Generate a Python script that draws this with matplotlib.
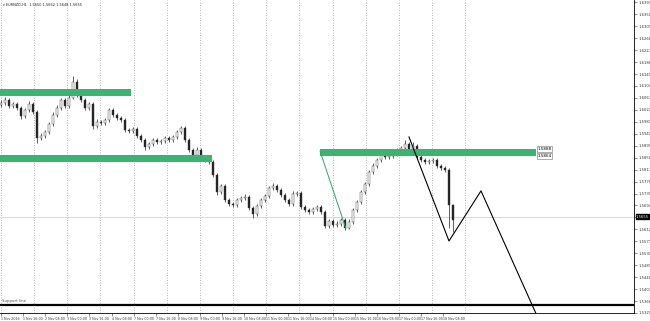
import numpy as np
import matplotlib.pyplot as plt
from matplotlib.patches import Rectangle
from matplotlib.transforms import blended_transform_factory


#%% Datos
symbol_title = "EURNZD,H1  1.5650 1.5662 1.5648 1.5655"

first_open = 1.6040
closes = [1.6046, 1.6056, 1.6035, 1.6042, 1.6029, 1.6001, 1.6022, 1.6042, 1.6015, 1.5926,
          1.5933, 1.5946, 1.5974, 1.6005, 1.6029, 1.6056, 1.6035, 1.6063, 1.6118, 1.6073,
          1.6056, 1.6029, 1.6042, 1.5967, 1.5981, 1.5977, 1.5987, 1.6022, 1.6005, 1.5994,
          1.5987, 1.5953, 1.5950, 1.5957, 1.5933, 1.5919, 1.5895, 1.5905, 1.5919, 1.5912,
          1.5915, 1.5926, 1.5919, 1.5929, 1.5946, 1.5960, 1.5919, 1.5884, 1.5867, 1.5884,
          1.5860, 1.5850, 1.5843, 1.5799, 1.5740, 1.5761, 1.5713, 1.5699, 1.5696, 1.5713,
          1.5720, 1.5723, 1.5686, 1.5665, 1.5692, 1.5713, 1.5727, 1.5754, 1.5761, 1.5747,
          1.5730, 1.5713, 1.5699, 1.5734, 1.5737, 1.5689, 1.5679, 1.5672, 1.5682, 1.5689,
          1.5672, 1.5624, 1.5641, 1.5627, 1.5631, 1.5644, 1.5617, 1.5638, 1.5679, 1.5706,
          1.5740, 1.5768, 1.5809, 1.5830, 1.5850, 1.5871, 1.5860, 1.5864, 1.5871, 1.5884,
          1.5891, 1.5905, 1.5888, 1.5898, 1.5860, 1.5850, 1.5843, 1.5847, 1.5850, 1.5830,
          1.5823, 1.5816, 1.5696, 1.5644]
highs = [1.6055, 1.6066, 1.6063, 1.6050, 1.6049, 1.6035, 1.6030, 1.6052, 1.6048, 1.6020,
         1.5941, 1.5954, 1.5982, 1.6013, 1.6038, 1.6064, 1.6062, 1.6085, 1.6138, 1.6128,
         1.6080, 1.6064, 1.6050, 1.6048, 1.5989, 1.5988, 1.5995, 1.6030, 1.6028, 1.6012,
         1.6001, 1.5993, 1.5960, 1.5964, 1.5963, 1.5940, 1.5925, 1.5913, 1.5927, 1.5926,
         1.5922, 1.5934, 1.5932, 1.5937, 1.5954, 1.5968, 1.5966, 1.5925, 1.5890, 1.5895,
         1.5890, 1.5866, 1.5857, 1.5849, 1.5805, 1.5769, 1.5767, 1.5719, 1.5706, 1.5721,
         1.5728, 1.5734, 1.5729, 1.5692, 1.5700, 1.5721, 1.5735, 1.5762, 1.5770, 1.5767,
         1.5753, 1.5736, 1.5719, 1.5742, 1.5745, 1.5743, 1.5695, 1.5686, 1.5690, 1.5697,
         1.5695, 1.5678, 1.5649, 1.5647, 1.5639, 1.5652, 1.5650, 1.5646, 1.5687, 1.5714,
         1.5748, 1.5776, 1.5817, 1.5838, 1.5858, 1.5880, 1.5877, 1.5872, 1.5879, 1.5892,
         1.5899, 1.5919, 1.5911, 1.5912, 1.5904, 1.5866, 1.5857, 1.5855, 1.5857, 1.5856,
         1.5836, 1.5829, 1.5822, 1.5700]
lows = [1.6032, 1.6038, 1.6027, 1.6028, 1.6020, 1.5992, 1.5995, 1.6016, 1.6008, 1.5908,
        1.5918, 1.5927, 1.5940, 1.5968, 1.5999, 1.6022, 1.6027, 1.6030, 1.6058, 1.6066,
        1.6048, 1.6020, 1.6022, 1.5958, 1.5960, 1.5970, 1.5971, 1.5980, 1.5998, 1.5987,
        1.5980, 1.5945, 1.5942, 1.5943, 1.5925, 1.5911, 1.5886, 1.5889, 1.5899, 1.5905,
        1.5905, 1.5909, 1.5912, 1.5913, 1.5923, 1.5940, 1.5911, 1.5876, 1.5859, 1.5861,
        1.5852, 1.5842, 1.5835, 1.5790, 1.5731, 1.5733, 1.5705, 1.5691, 1.5688, 1.5690,
        1.5707, 1.5714, 1.5678, 1.5651, 1.5659, 1.5686, 1.5707, 1.5721, 1.5748, 1.5740,
        1.5722, 1.5705, 1.5691, 1.5693, 1.5727, 1.5681, 1.5671, 1.5664, 1.5665, 1.5676,
        1.5664, 1.5617, 1.5618, 1.5620, 1.5621, 1.5625, 1.5610, 1.5612, 1.5632, 1.5673,
        1.5700, 1.5734, 1.5762, 1.5803, 1.5824, 1.5844, 1.5852, 1.5854, 1.5857, 1.5865,
        1.5878, 1.5885, 1.5880, 1.5882, 1.5852, 1.5842, 1.5836, 1.5837, 1.5840, 1.5823,
        1.5816, 1.5810, 1.5617, 1.5603]

# zonas (rectangulos verdes): inicio, fin, precio alto, precio bajo
zonas_inicio = [-0.5, -0.5, 79.75]
zonas_fin = [32.5, 52.75, 133.75]
zonas_alto = [1.6094, 1.5867, 1.5888]
zonas_bajo = [1.6070, 1.5843, 1.5864]
zona_etiquetas = ["1.5888", "1.5864"]

# lineas dibujadas
zigzag_x = [102.0, 112.0, 120.0, 134.5]
zigzag_precio = [1.5929, 1.5572, 1.5744, 1.5300]
linea_verde_x = [79.75, 86.25]
linea_verde_precio = [1.5881, 1.5614]
soporte = 1.5353
precio_actual = 1.5655

precios_eje = [1.5325, 1.5366, 1.5407, 1.5448, 1.5489, 1.5530, 1.5571, 1.5612, 1.5653,
               1.5694, 1.5735, 1.5776, 1.5817, 1.5858, 1.5899, 1.5940, 1.5981, 1.6022,
               1.6063, 1.6104, 1.6145, 1.6186, 1.6227, 1.6268, 1.6309, 1.6350, 1.6391]

fechas = ["1 Nov 2016", "1 Nov 16:00", "2 Nov 08:00", "3 Nov 00:00", "3 Nov 16:00",
          "4 Nov 08:00", "7 Nov 00:00", "7 Nov 16:00", "8 Nov 08:00", "9 Nov 00:00",
          "9 Nov 16:00", "10 Nov 08:00", "11 Nov 00:00", "11 Nov 16:00", "14 Nov 08:00",
          "15 Nov 00:00", "15 Nov 16:00", "16 Nov 08:00", "17 Nov 00:00", "17 Nov 16:00",
          "18 Nov 08:00"]


#%% Grafico
opens = [first_open] + closes[:-1]
idx = np.arange(len(closes))

fig = plt.figure(figsize=(6.5, 3.21), dpi=100)
ax = fig.add_axes([0.0, 8 / 321, 634 / 650, 313 / 321])
ax.set_xlim(-0.25, 158.25)
ax.set_ylim(1.5325, 1.6399)

# separadores de dias
paso_dia = 8.29
for k in range(15):
    ax.axvline(k * paso_dia, color="#9a9a9a", lw=0.6, ls=(0, (1, 2)), zorder=0)

ax.axhline(precio_actual, color="#d2d2d2", lw=0.6, zorder=0)

# velas
ax.vlines(idx, lows, highs, color="#222222", lw=0.5, zorder=2)
cuerpo_bajo = np.minimum(opens, closes)
cuerpo_alto = np.maximum(opens, closes)
altura = np.maximum(cuerpo_alto - cuerpo_bajo, 0.00012)
colores = ["white" if c >= o else "#222222" for o, c in zip(opens, closes)]
ax.bar(idx, altura, bottom=cuerpo_bajo, width=0.45, color=colores,
       edgecolor="#333333", linewidth=0.3, zorder=3)

# zonas
for x0, x1, hi, lo in zip(zonas_inicio, zonas_fin, zonas_alto, zonas_bajo):
    ax.add_patch(Rectangle((x0, lo), x1 - x0, hi - lo, color="#3cb371", lw=0, zorder=4))

for texto, precio in zip(zona_etiquetas, [zonas_alto[2], zonas_bajo[2]]):
    ax.text(zonas_fin[2] + 0.3, precio, texto, fontsize=3.0, va="center", ha="left",
            bbox=dict(boxstyle="square,pad=0.15", fc="white", ec="#707070", lw=0.4), zorder=6)

ax.plot(linea_verde_x, linea_verde_precio, color="#2fa866", lw=0.7, zorder=5)
ax.plot(zigzag_x, zigzag_precio, color="black", lw=0.8, zorder=5)
ax.axhline(soporte, color="black", lw=1.6, zorder=5)
ax.text(0.3, soporte + 0.0006, "Support line", fontsize=2.8, color="#505050", va="bottom")

# ejes
ax.yaxis.tick_right()
ax.set_yticks(precios_eje)
# la etiqueta del precio actual tapa la marca de 1.5653
ax.set_yticklabels(["" if abs(p - precio_actual) < 0.001 else f"{p:.4f}" for p in precios_eje])
ax.tick_params(axis="y", labelsize=2.7, length=2, width=0.4, pad=1.0, colors="#333333")
ax.set_xticks(np.arange(len(fechas)) * paso_dia * 2 / 3)
ax.set_xticklabels(fechas, ha="left")
ax.tick_params(axis="x", labelsize=2.3, length=2, width=0.4, pad=0.8, colors="#333333")
for s in ["left", "top"]:
    ax.spines[s].set_visible(False)
for s in ["right", "bottom"]:
    ax.spines[s].set_linewidth(0.6)

trans = blended_transform_factory(ax.transAxes, ax.transData)
ax.text(1.003, precio_actual, f"{precio_actual:.4f}", transform=trans, fontsize=2.7,
        color="white", va="center", ha="left", clip_on=False,
        bbox=dict(boxstyle="square,pad=0.1", fc="black", ec="black"))

fig.text(0.004, 0.992, "\u25be " + symbol_title, fontsize=2.5, va="top", ha="left", color="#222222")

plt.savefig("out.png", dpi=100)
